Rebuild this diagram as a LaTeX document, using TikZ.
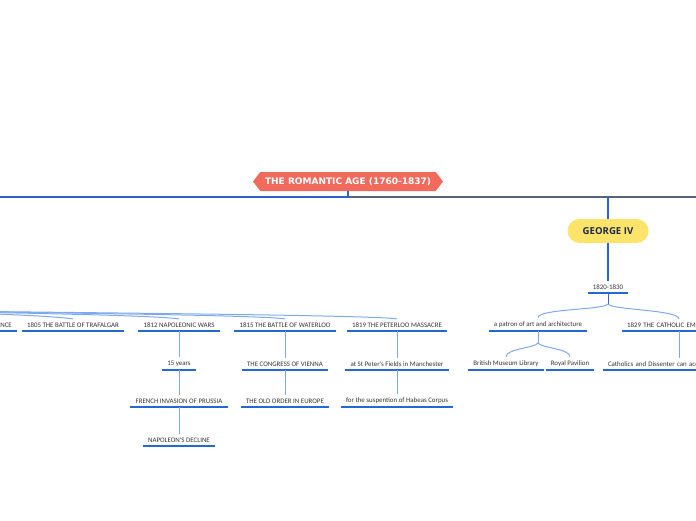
\documentclass[tikz,border=0pt]{standalone}
\usepackage{fontspec}
\usepackage{tikz}
\usetikzlibrary{shapes.symbols}
\newfontfamily\labelfont{Carlito}
\newfontfamily\rootfont{DejaVu Sans}
\newfontfamily\geofont{Open Sans}
\definecolor{rootred}{HTML}{F26A5C}
\definecolor{geoyellow}{HTML}{FCE46A}
\definecolor{geotext}{HTML}{1B2A4A}
\definecolor{busblue}{HTML}{2563D0}
\definecolor{busgray}{HTML}{56627A}
\definecolor{underblue}{HTML}{2468D6}
\definecolor{linkblue}{HTML}{7FA9EE}
\definecolor{labeltext}{HTML}{333333}

\tikzset{
  leaf/.style={font=\labelfont\fontsize{6.9}{8}\selectfont, text=labeltext,
    inner xsep=5pt, inner ysep=3.5pt, anchor=south,
    append after command={\pgfextra{\let\mainnode=\tikzlastnode}
      (\mainnode.south west) edge[draw=underblue, line width=1.6pt] (\mainnode.south east)}},
  cutleaf/.style={leaf, text width=#1, align=left},
  link/.style={draw=linkblue, line width=1pt},
  stem/.style={draw=busblue, line width=1.2pt}
}

\begin{document}
\begin{tikzpicture}[x=1pt, y=-1pt]
	\useasboundingbox (0,0) rectangle (696,520);
	\clip (0,0) rectangle (696,520);
	
	% root
	\node[signal, signal to=west and east, signal pointer angle=105,
	      fill=rootred, text=white, font=\rootfont\bfseries\fontsize{9}{10}\selectfont,
	      minimum width=190pt, minimum height=19pt, inner xsep=3pt] (root) at (348,181.5)
	      {THE ROMANTIC AGE (1760-1837)};
	
	% bus line running off both sides
	\coordinate (bus) at (348,197);
	\coordinate (busL) at (-20,197);
	\coordinate (busR) at (716,197);
	\coordinate (geoTop) at (608,197);
	\draw[busblue, line width=1.1pt] (root.south) -- (bus);
	\draw[busblue, line width=1.1pt] (bus) -- (busL);
	\draw[busgray, line width=1.1pt] (bus) -- (busR);
	
	% George IV branch
	\node[fill=geoyellow, rounded corners=12pt, minimum width=81pt, minimum height=24pt,
	      text=geotext, font=\geofont\bfseries\fontsize{9.6}{11}\selectfont] (geo) at (608,231) {GEORGE IV};
	\draw[stem] (geoTop) -- (geo.north);
	\node[leaf] (dates) at (608,293) {1820-1830};
	\draw[stem] (geo.south) -- (dates.north);
	
	\node[leaf] (patron) at (538,331) {a patron of art and architecture};
	\node[cutleaf=104pt] (emanc) at (679,331) {1829 THE CATHOLIC EMA};
	\coordinate (dj) at (608,304);
	\draw[underblue, line width=1pt] (dates.south) -- (dj);
	\draw[link] (dj) .. controls +(-4,6) and +(0,-9) .. (patron.north);
	\draw[link] (dj) .. controls +(4,6) and +(0,-9) .. (emanc.north);
	
	\node[leaf] (bml) at (506,370) {British Museum Library};
	\node[leaf] (royal) at (570,370) {Royal Pavilion};
	\node[cutleaf=142pt] (cath) at (679,370) {Catholics and Dissenter can acc};
	\coordinate (pj) at (538,343);
	\draw[link] (patron.south) -- (pj);
	\draw[link] (pj) .. controls +(-3,5) and +(0,-8) .. (bml.north);
	\draw[link] (pj) .. controls +(3,5) and +(0,-8) .. (royal.north);
	\draw[link] (emanc.south) -- (cath.north);
	
	% left branch, parent is off the page
	\coordinate (lj) at (-160,309);
	\node[leaf, text width=80pt, align=right, anchor=south east] (france) at (17,331) {ANCE};
	\node[leaf] (traf) at (73,331) {1805 THE BATTLE OF TRAFALGAR};
	\node[leaf] (napo) at (179,331) {1812 NAPOLEONIC WARS};
	\node[leaf] (water) at (285,331) {1815 THE BATTLE OF WATERLOO};
	\node[leaf] (peter) at (397,331) {1819 THE PETERLOO MASSACRE};
	\foreach \kid in {france,traf,napo,water,peter}
		\draw[link] (lj) .. controls +(80,3) and +(-40,-5) .. (\kid.north);
	
	% Napoleonic wars
	\node[leaf] (years) at (179,370) {15 years};
	\node[leaf] (prussia) at (179,407) {FRENCH INVASION OF PRUSSIA};
	\node[leaf] (decline) at (179,446) {NAPOLEON'S DECLINE};
	\draw[link] (napo.south) -- (years.north);
	\draw[link] (years.south) -- (prussia.north);
	\draw[link] (prussia.south) -- (decline.north);
	
	% Waterloo
	\node[leaf] (vienna) at (285,370) {THE CONGRESS OF VIENNA};
	\node[leaf] (order) at (285,407) {THE OLD ORDER IN EUROPE};
	\draw[link] (water.south) -- (vienna.north);
	\draw[link] (vienna.south) -- (order.north);
	
	% Peterloo
	\node[leaf] (fields) at (397,370) {at St Peter's Fields in Manchester};
	\node[leaf] (habeas) at (397,407) {for the suspention of Habeas Corpus};
	\draw[link] (peter.south) -- (fields.north);
	\draw[link] (fields.south) -- (habeas.north);
	
\end{tikzpicture}
\end{document}
